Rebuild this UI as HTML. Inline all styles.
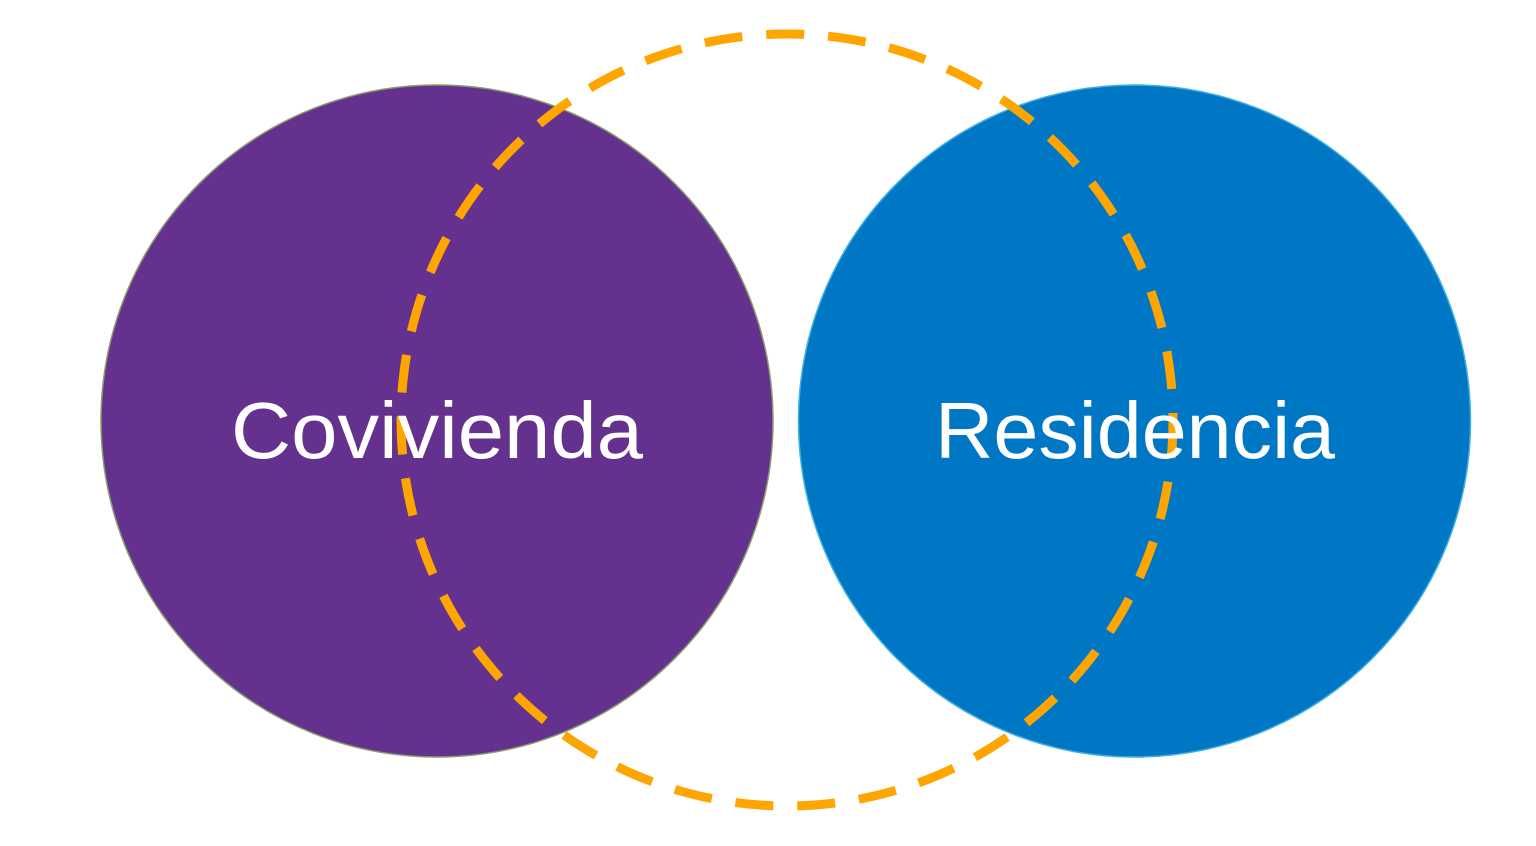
<!DOCTYPE html>
<html><head><meta charset="utf-8"><style>html,body{margin:0;padding:0;background:#fff}svg{display:block}</style></head>
<body>
<svg width="1536" height="846" viewBox="0 0 1536 846" xmlns="http://www.w3.org/2000/svg">
<rect width="1536" height="846" fill="#fff"/>
<circle cx="437" cy="421" r="336" fill="#65318F" stroke="#8a9a6a" stroke-width="1.5"/>
<circle cx="1134.5" cy="421" r="336" fill="#0077C4" stroke="#3fb0e0" stroke-width="1.5"/>
<ellipse cx="787" cy="420" rx="386" ry="386" fill="none" stroke="#FFA500" stroke-width="9" stroke-dasharray="38 24"/>
<text x="437" y="458" text-anchor="middle" font-family="Liberation Sans, sans-serif" font-size="80" fill="#fff" textLength="412" lengthAdjust="spacingAndGlyphs">Covivienda</text>
<text x="1135" y="458" text-anchor="middle" font-family="Liberation Sans, sans-serif" font-size="80" fill="#fff" textLength="400" lengthAdjust="spacingAndGlyphs">Residencia</text>
</svg>
</body></html>
